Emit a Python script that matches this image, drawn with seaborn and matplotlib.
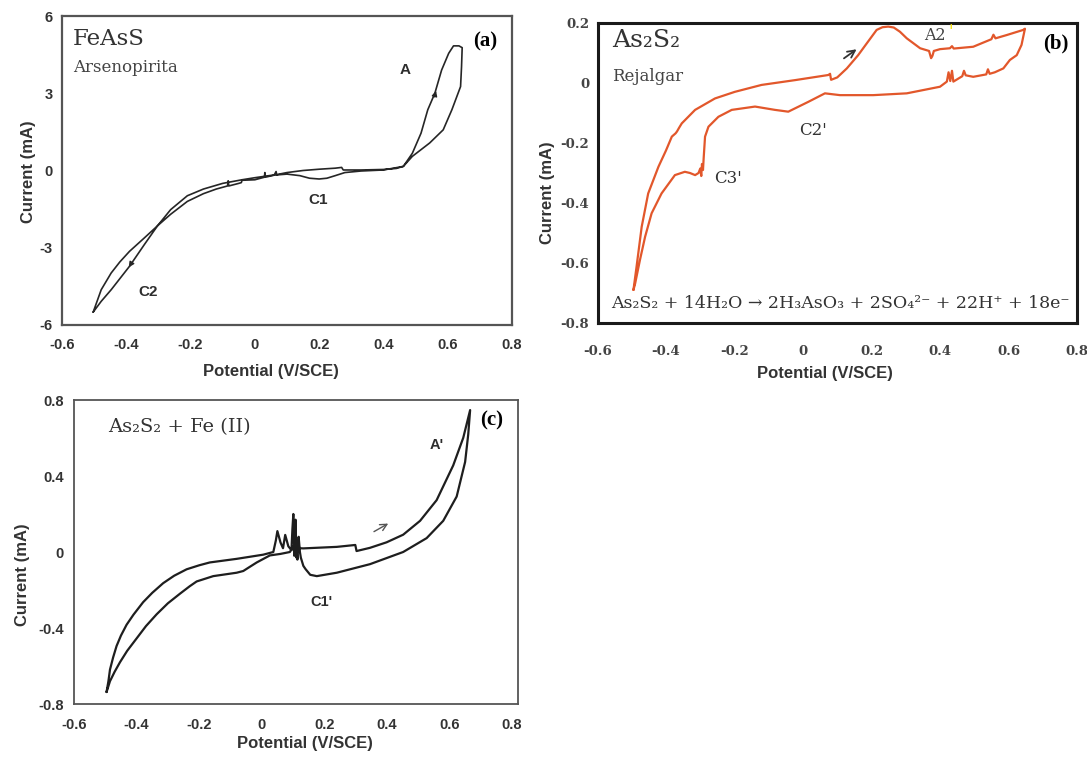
import matplotlib
matplotlib.use("Agg")
import matplotlib.pyplot as plt
import pandas as pd
import seaborn as sns

sns.set_theme(style="white")
plt.rcParams["font.family"] = ["DejaVu Sans"]

# ---------------- data: cyclic voltammograms (E in V/SCE, I in mA) ----------------
# (a) FeAsS, arsenopyrite
a_fwd_E = [-0.503, -0.478, -0.447, -0.42, -0.39, -0.344, -0.303, -0.262, -0.21, -0.16,
           -0.12, -0.085, -0.083, -0.081, -0.05, -0.042, -0.040, 0.0, 0.03, 0.031, 0.033,
           0.06, 0.066, 0.068, 0.10, 0.15, 0.20, 0.25, 0.27, 0.275, 0.33, 0.40, 0.44,
           0.462, 0.49, 0.517, 0.538, 0.56, 0.581, 0.603, 0.618, 0.635, 0.645]
a_fwd_I = [-5.50, -4.63, -3.98, -3.55, -3.14, -2.62, -2.15, -1.70, -1.20, -0.90,
           -0.72, -0.60, -0.40, -0.60, -0.50, -0.47, -0.38, -0.36, -0.26, -0.08, -0.26,
           -0.18, -0.04, -0.16, -0.08, 0.00, 0.05, 0.09, 0.12, 0.02, 0.02, 0.04, 0.08,
           0.16, 0.67, 1.45, 2.36, 3.00, 3.90, 4.55, 4.84, 4.84, 4.77]
a_rev_E = [0.645, 0.643, 0.640, 0.613, 0.586, 0.544, 0.49, 0.462, 0.40, 0.33, 0.28,
           0.25, 0.224, 0.20, 0.17, 0.14, 0.10, 0.05, 0.0, -0.04, -0.10, -0.16, -0.21,
           -0.262, -0.303, -0.344, -0.39, -0.447, -0.478, -0.503]
a_rev_I = [4.77, 4.03, 3.26, 2.36, 1.58, 1.07, 0.55, 0.16, 0.02, -0.02, -0.08,
           -0.20, -0.30, -0.33, -0.30, -0.20, -0.14, -0.19, -0.28, -0.36, -0.50, -0.72, -0.98,
           -1.52, -2.15, -2.88, -3.72, -4.63, -5.08, -5.50]

# (b) As2S2, realgar
b_fwd_E = [-0.495, -0.486, -0.471, -0.452, -0.422, -0.40, -0.383, -0.372, -0.368, -0.362,
           -0.354, -0.315, -0.257, -0.199, -0.121, -0.023, 0.074, 0.079, 0.082, 0.10,
           0.128, 0.161, 0.186, 0.215, 0.232, 0.249, 0.265, 0.283, 0.303, 0.342, 0.368,
           0.374, 0.378, 0.382, 0.40, 0.429, 0.435, 0.44, 0.497, 0.550, 0.556, 0.562,
           0.595, 0.643, 0.648]
b_fwd_I = [-0.689, -0.612, -0.479, -0.368, -0.279, -0.225, -0.179, -0.168, -0.162, -0.150,
           -0.135, -0.090, -0.052, -0.030, -0.007, 0.009, 0.026, 0.030, 0.010, 0.018,
           0.048, 0.092, 0.131, 0.176, 0.185, 0.187, 0.184, 0.170, 0.148, 0.115, 0.106,
           0.082, 0.090, 0.106, 0.112, 0.115, 0.122, 0.114, 0.120, 0.145, 0.160, 0.148,
           0.159, 0.176, 0.180]
b_rev_E = [0.648, 0.638, 0.624, 0.604, 0.585, 0.56, 0.545, 0.54, 0.535, 0.497, 0.475,
           0.47, 0.465, 0.439, 0.435, 0.43, 0.425, 0.42, 0.40, 0.303, 0.205, 0.108, 0.064,
           0.016, -0.043, -0.082, -0.14, -0.208, -0.247, -0.276, -0.286, -0.290, -0.292,
           -0.295, -0.297, -0.30, -0.305, -0.315, -0.33, -0.345, -0.374, -0.413, -0.442,
           -0.461, -0.476, -0.49, -0.495]
b_rev_I = [0.180, 0.126, 0.092, 0.076, 0.048, 0.035, 0.030, 0.045, 0.028, 0.020, 0.025,
           0.040, 0.022, 0.004, 0.040, 0.006, 0.035, 0.004, -0.013, -0.035, -0.041, -0.041,
           -0.035, -0.063, -0.096, -0.090, -0.079, -0.090, -0.113, -0.146, -0.179, -0.25,
           -0.29, -0.27, -0.31, -0.285, -0.300, -0.307, -0.300, -0.296, -0.307, -0.368,
           -0.434, -0.512, -0.589, -0.667, -0.689]

# (c) As2S2 + Fe(II)
c_fwd_E = [-0.496, -0.49, -0.485, -0.475, -0.464, -0.45, -0.432, -0.41, -0.379, -0.35,
           -0.315, -0.28, -0.24, -0.20, -0.166, -0.08, 0.005, 0.037, 0.045, 0.05, 0.06,
           0.068, 0.075, 0.085, 0.095, 0.098, 0.101, 0.104, 0.108, 0.111, 0.115, 0.12,
           0.133, 0.24, 0.299, 0.303, 0.346, 0.399, 0.452, 0.506, 0.559, 0.612, 0.644,
           0.666]
c_fwd_I = [-0.737, -0.68, -0.619, -0.555, -0.495, -0.44, -0.383, -0.33, -0.264, -0.215,
           -0.164, -0.125, -0.091, -0.070, -0.055, -0.036, -0.014, 0.0, 0.06, 0.11, 0.05,
           0.02, 0.09, 0.03, 0.01, 0.12, 0.20, -0.02, 0.17, -0.03, 0.06, 0.02,
           0.019, 0.027, 0.037, 0.005, 0.022, 0.051, 0.091, 0.164, 0.273, 0.456, 0.601,
           0.747]
c_rev_E = [0.666, 0.66, 0.65, 0.623, 0.58, 0.527, 0.452, 0.346, 0.24, 0.176, 0.155, 0.14,
           0.133, 0.125, 0.122, 0.118, 0.114, 0.11, 0.105, 0.10, 0.09, 0.06, 0.026, -0.016,
           -0.04, -0.059, -0.08, -0.155, -0.208, -0.23, -0.261, -0.30, -0.336, -0.37, -0.40,
           -0.43, -0.453, -0.47, -0.485, -0.496]
c_rev_I = [0.747, 0.62, 0.474, 0.292, 0.164, 0.073, 0.0, -0.064, -0.109, -0.127, -0.12,
           -0.09, -0.073, -0.03, 0.0, 0.08, -0.04, 0.05, -0.01, 0.03, 0.0, -0.01, -0.018,
           -0.055, -0.08, -0.10, -0.109, -0.127, -0.155, -0.18, -0.219, -0.27, -0.328,
           -0.39, -0.455, -0.52, -0.58, -0.63, -0.68, -0.737]

x_ticks = [-0.6, -0.4, -0.2, 0.0, 0.2, 0.4, 0.6, 0.8]
x_tick_labels = ["-0.6", "-0.4", "-0.2", "0", "0.2", "0.4", "0.6", "0.8"]
a_y_ticks = [-6, -3, 0, 3, 6]
a_y_tick_labels = ["-6", "-3", "0", "3", "6"]
b_y_ticks = [-0.8, -0.6, -0.4, -0.2, 0.0, 0.2]
b_y_tick_labels = ["-0.8", "-0.6", "-0.4", "-0.2", "0", "0.2"]
c_y_ticks = [-0.8, -0.4, 0.0, 0.4, 0.8]
c_y_tick_labels = ["-0.8", "-0.4", "0", "0.4", "0.8"]

X_LABEL = "Potential (V/SCE)"
Y_LABEL = "Current (mA)"

# ---------------- figure layout (pixel boxes) ----------------
W, H = 1087, 759
fig = plt.figure(figsize=(W / 100, H / 100), dpi=100)
fig.patch.set_facecolor("white")


def box(left, top, right, bottom):
    return [left / W, 1 - bottom / H, (right - left) / W, (bottom - top) / H]


ax_a = fig.add_axes(box(62, 16, 512, 325))
ax_b = fig.add_axes(box(597.5, 22.7, 1077, 323.3))
ax_c = fig.add_axes(box(74, 400, 518, 704))

SANS = "Liberation Sans"
SLAB = "DejaVu Serif"
TIMES = "Liberation Serif"
INK = "#2e2e2e"
ORANGE = "#e2572b"


def sweep(fwd_E, fwd_I, rev_E, rev_I):
    return pd.DataFrame({"E": fwd_E + rev_E, "I": fwd_I + rev_I})


def draw_cv(ax, frame, color, lw):
    sns.lineplot(data=frame, x="E", y="I", sort=False, estimator=None,
                 color=color, linewidth=lw, ax=ax)


# ---------------- (a) FeAsS ----------------
draw_cv(ax_a, sweep(a_fwd_E, a_fwd_I, a_rev_E, a_rev_I), "#262626", 1.2)
ax_a.set_xlim(-0.6, 0.8)
ax_a.set_ylim(-6, 6)
ax_a.set_xticks(x_ticks, x_tick_labels, fontfamily=SANS, fontweight="bold",
                fontsize=10.5, color="#333333")
ax_a.set_yticks(a_y_ticks, a_y_tick_labels, fontfamily=SANS, fontweight="bold",
                fontsize=10.5, color="#333333")
ax_a.tick_params(axis="x", direction="out", length=3.5, width=1, color="#555555", pad=5.5)
ax_a.tick_params(axis="y", direction="out", length=3.5, width=1, color="#555555", pad=3)
for s in ax_a.spines.values():
    s.set_color("#555555")
    s.set_linewidth(1.6)
ax_a.set_xlabel(X_LABEL, fontfamily=SANS, fontweight="bold", fontsize=12, color="#333333")
ax_a.set_ylabel(Y_LABEL, fontfamily=SANS, fontweight="bold", fontsize=12, color="#333333")
ax_a.xaxis.set_label_coords(0.464, -0.125)
ax_a.yaxis.set_label_coords(-0.058, 0.495)

ax_a.text(0.024, 0.906, "FeAsS", transform=ax_a.transAxes, fontfamily=SLAB,
          fontsize=16.5, color="#333333", va="baseline")
ax_a.text(0.024, 0.818, "Arsenopirita", transform=ax_a.transAxes, fontfamily=SLAB,
          fontsize=12, color="#444444", va="baseline")
ax_a.text(0.94, 0.916, "(a)", transform=ax_a.transAxes, fontfamily=TIMES,
          fontweight="bold", fontsize=15, color="black", ha="center", va="center")
ax_a.text(0.467, 3.90, "A", fontfamily=SANS, fontweight="bold", fontsize=11,
          color=INK, ha="center", va="center")
ax_a.text(0.198, -1.14, "C1", fontfamily=SANS, fontweight="bold", fontsize=11,
          color=INK, ha="center", va="center")
ax_a.text(-0.331, -4.73, "C2", fontfamily=SANS, fontweight="bold", fontsize=11,
          color=INK, ha="center", va="center")
ax_a.annotate("", xy=(0.566, 3.20), xytext=(0.556, 2.75),
              arrowprops=dict(arrowstyle="-|>", color="#262626", lw=0.9, mutation_scale=8))
ax_a.annotate("", xy=(-0.397, -3.85), xytext=(-0.384, -3.60),
              arrowprops=dict(arrowstyle="-|>", color="#262626", lw=0.9, mutation_scale=8))

# ---------------- (b) As2S2 ----------------
draw_cv(ax_b, sweep(b_fwd_E, b_fwd_I, b_rev_E, b_rev_I), ORANGE, 1.6)
ax_b.set_xlim(-0.6, 0.8)
ax_b.set_ylim(-0.8, 0.2)
ax_b.set_xticks(x_ticks, x_tick_labels, fontfamily=SLAB, fontweight="bold",
                fontsize=9.5, color="#444444")
ax_b.set_yticks(b_y_ticks, b_y_tick_labels, fontfamily=SLAB, fontweight="bold",
                fontsize=9.5, color="#444444")
ax_b.tick_params(axis="x", direction="inout", length=7, width=1, color="#555555", pad=12)
ax_b.tick_params(axis="y", direction="out", length=5, width=1, color="#555555", pad=1)
for s in ax_b.spines.values():
    s.set_color("#1a1a1a")
    s.set_linewidth(2.2)
ax_b.set_xlabel(X_LABEL, fontfamily=SANS, fontweight="bold", fontsize=12, color="#333333")
ax_b.set_ylabel(Y_LABEL, fontfamily=SANS, fontweight="bold", fontsize=12, color="#333333")
ax_b.xaxis.set_label_coords(0.474, -0.143)
ax_b.yaxis.set_label_coords(-0.088, 0.433)

ax_b.text(0.030, 0.92, "As₂S₂", transform=ax_b.transAxes, fontfamily=SLAB,
          fontsize=18, color="#333333", va="baseline")
ax_b.text(0.030, 0.806, "Rejalgar", transform=ax_b.transAxes, fontfamily=SLAB,
          fontsize=12, color="#444444", va="baseline")
ax_b.text(0.956, 0.932, "(b)", transform=ax_b.transAxes, fontfamily=TIMES,
          fontweight="bold", fontsize=15, color="black", ha="center", va="center")
ax_b.text(0.0275, 0.051, "As₂S₂ + 14H₂O → 2H₃AsO₃ + 2SO₄²⁻ + 22H⁺ + 18e⁻",
          transform=ax_b.transAxes, fontfamily=SLAB, fontsize=12.5, color="#333333",
          va="baseline")
ax_b.text(0.385, 0.156, "A2", fontfamily=SLAB, fontsize=11.5, color="#444444",
          ha="center", va="center")
ax_b.text(0.432, 0.170, "'", fontfamily=SLAB, fontsize=11.5, color="#f5e000",
          ha="center", va="center")
ax_b.text(0.030, -0.159, "C2'", fontfamily=SLAB, fontsize=12, color="#333333",
          ha="center", va="center")
ax_b.text(-0.218, -0.318, "C3'", fontfamily=SLAB, fontsize=12, color="#333333",
          ha="center", va="center")
ax_b.annotate("", xy=(0.163, 0.117), xytext=(0.113, 0.076),
              arrowprops=dict(arrowstyle="->", color="#333333", lw=1.3, mutation_scale=13))

# ---------------- (c) As2S2 + Fe(II) ----------------
draw_cv(ax_c, sweep(c_fwd_E, c_fwd_I, c_rev_E, c_rev_I), "#1e1e1e", 1.6)
ax_c.set_xlim(-0.6, 0.819)
ax_c.set_ylim(-0.8, 0.8)
ax_c.set_xticks(x_ticks, x_tick_labels, fontfamily=SANS, fontweight="bold",
                fontsize=10.5, color="#333333")
ax_c.set_yticks(c_y_ticks, c_y_tick_labels, fontfamily=SANS, fontweight="bold",
                fontsize=10.5, color="#333333")
ax_c.tick_params(axis="x", direction="inout", length=5, width=1, color="#555555", pad=7.5)
ax_c.tick_params(axis="y", direction="inout", length=5, width=1, color="#555555", pad=5)
for s in ax_c.spines.values():
    s.set_color("#555555")
    s.set_linewidth(1.3)
ax_c.set_xlabel(X_LABEL, fontfamily=SANS, fontweight="bold", fontsize=12, color="#333333")
ax_c.set_ylabel(Y_LABEL, fontfamily=SANS, fontweight="bold", fontsize=12, color="#333333")
ax_c.xaxis.set_label_coords(0.52, -0.105)
ax_c.yaxis.set_label_coords(-0.100, 0.424)

ax_c.text(0.077, 0.896, "As₂S₂ + Fe (II)", transform=ax_c.transAxes, fontfamily=SLAB,
          fontsize=14, color="#333333", va="baseline")
ax_c.text(0.941, 0.931, "(c)", transform=ax_c.transAxes, fontfamily=TIMES,
          fontweight="bold", fontsize=15, color="black", ha="center", va="center")
ax_c.text(0.559, 0.565, "A'", fontfamily=SANS, fontweight="bold", fontsize=10.5,
          color=INK, ha="center", va="center")
ax_c.text(0.192, -0.264, "C1'", fontfamily=SANS, fontweight="bold", fontsize=10.5,
          color=INK, ha="center", va="center")
ax_c.annotate("", xy=(0.412, 0.157), xytext=(0.351, 0.100),
              arrowprops=dict(arrowstyle="->", color="#555555", lw=1.0, mutation_scale=12))

fig.savefig("out.png", dpi=100, facecolor="white")
